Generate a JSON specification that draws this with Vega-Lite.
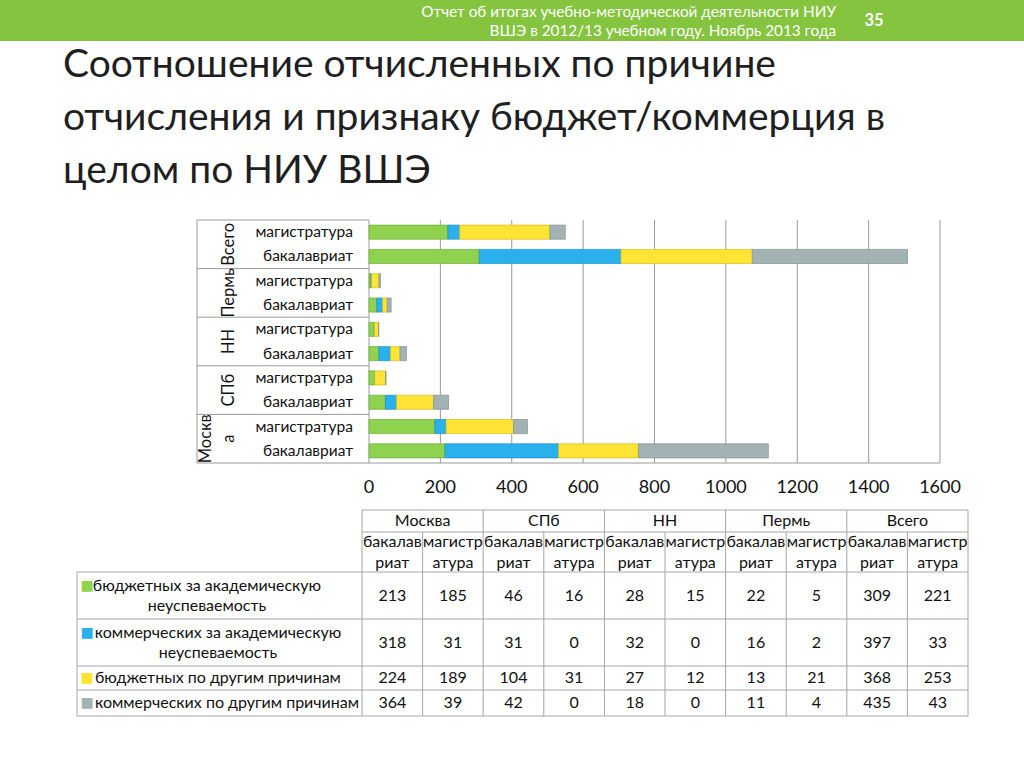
{
  "$schema": "https://vega.github.io/schema/vega-lite/v6.json",
  "width": 1024,
  "height": 768,
  "autosize": "none",
  "padding": 0,
  "background": "white",
  "config": {"view": {"stroke": null}, "font": "Lato", "text": {"font": "Lato", "color": "#111111"}},
  "datasets": {
    "bars": [
      {"grp": "Москва", "prog": "бакалавриат", "k": 0, "cat": "бюджетных за академическую неуспеваемость", "v": 213},
      {"grp": "Москва", "prog": "бакалавриат", "k": 1, "cat": "коммерческих за академическую неуспеваемость", "v": 318},
      {"grp": "Москва", "prog": "бакалавриат", "k": 2, "cat": "бюджетных по другим причинам", "v": 224},
      {"grp": "Москва", "prog": "бакалавриат", "k": 3, "cat": "коммерческих по другим причинам", "v": 364},
      {"grp": "Москва", "prog": "магистратура", "k": 0, "cat": "бюджетных за академическую неуспеваемость", "v": 185},
      {"grp": "Москва", "prog": "магистратура", "k": 1, "cat": "коммерческих за академическую неуспеваемость", "v": 31},
      {"grp": "Москва", "prog": "магистратура", "k": 2, "cat": "бюджетных по другим причинам", "v": 189},
      {"grp": "Москва", "prog": "магистратура", "k": 3, "cat": "коммерческих по другим причинам", "v": 39},
      {"grp": "СПб", "prog": "бакалавриат", "k": 0, "cat": "бюджетных за академическую неуспеваемость", "v": 46},
      {"grp": "СПб", "prog": "бакалавриат", "k": 1, "cat": "коммерческих за академическую неуспеваемость", "v": 31},
      {"grp": "СПб", "prog": "бакалавриат", "k": 2, "cat": "бюджетных по другим причинам", "v": 104},
      {"grp": "СПб", "prog": "бакалавриат", "k": 3, "cat": "коммерческих по другим причинам", "v": 42},
      {"grp": "СПб", "prog": "магистратура", "k": 0, "cat": "бюджетных за академическую неуспеваемость", "v": 16},
      {"grp": "СПб", "prog": "магистратура", "k": 1, "cat": "коммерческих за академическую неуспеваемость", "v": 0},
      {"grp": "СПб", "prog": "магистратура", "k": 2, "cat": "бюджетных по другим причинам", "v": 31},
      {"grp": "СПб", "prog": "магистратура", "k": 3, "cat": "коммерческих по другим причинам", "v": 0},
      {"grp": "НН", "prog": "бакалавриат", "k": 0, "cat": "бюджетных за академическую неуспеваемость", "v": 28},
      {"grp": "НН", "prog": "бакалавриат", "k": 1, "cat": "коммерческих за академическую неуспеваемость", "v": 32},
      {"grp": "НН", "prog": "бакалавриат", "k": 2, "cat": "бюджетных по другим причинам", "v": 27},
      {"grp": "НН", "prog": "бакалавриат", "k": 3, "cat": "коммерческих по другим причинам", "v": 18},
      {"grp": "НН", "prog": "магистратура", "k": 0, "cat": "бюджетных за академическую неуспеваемость", "v": 15},
      {"grp": "НН", "prog": "магистратура", "k": 1, "cat": "коммерческих за академическую неуспеваемость", "v": 0},
      {"grp": "НН", "prog": "магистратура", "k": 2, "cat": "бюджетных по другим причинам", "v": 12},
      {"grp": "НН", "prog": "магистратура", "k": 3, "cat": "коммерческих по другим причинам", "v": 0},
      {"grp": "Пермь", "prog": "бакалавриат", "k": 0, "cat": "бюджетных за академическую неуспеваемость", "v": 22},
      {"grp": "Пермь", "prog": "бакалавриат", "k": 1, "cat": "коммерческих за академическую неуспеваемость", "v": 16},
      {"grp": "Пермь", "prog": "бакалавриат", "k": 2, "cat": "бюджетных по другим причинам", "v": 13},
      {"grp": "Пермь", "prog": "бакалавриат", "k": 3, "cat": "коммерческих по другим причинам", "v": 11},
      {"grp": "Пермь", "prog": "магистратура", "k": 0, "cat": "бюджетных за академическую неуспеваемость", "v": 5},
      {"grp": "Пермь", "prog": "магистратура", "k": 1, "cat": "коммерческих за академическую неуспеваемость", "v": 2},
      {"grp": "Пермь", "prog": "магистратура", "k": 2, "cat": "бюджетных по другим причинам", "v": 21},
      {"grp": "Пермь", "prog": "магистратура", "k": 3, "cat": "коммерческих по другим причинам", "v": 4},
      {"grp": "Всего", "prog": "бакалавриат", "k": 0, "cat": "бюджетных за академическую неуспеваемость", "v": 309},
      {"grp": "Всего", "prog": "бакалавриат", "k": 1, "cat": "коммерческих за академическую неуспеваемость", "v": 397},
      {"grp": "Всего", "prog": "бакалавриат", "k": 2, "cat": "бюджетных по другим причинам", "v": 368},
      {"grp": "Всего", "prog": "бакалавриат", "k": 3, "cat": "коммерческих по другим причинам", "v": 435},
      {"grp": "Всего", "prog": "магистратура", "k": 0, "cat": "бюджетных за академическую неуспеваемость", "v": 221},
      {"grp": "Всего", "prog": "магистратура", "k": 1, "cat": "коммерческих за академическую неуспеваемость", "v": 33},
      {"grp": "Всего", "prog": "магистратура", "k": 2, "cat": "бюджетных по другим причинам", "v": 253},
      {"grp": "Всего", "prog": "магистратура", "k": 3, "cat": "коммерческих по другим причинам", "v": 43}
    ],
    "cats": [
      {"k": 0, "cat": "бюджетных за академическую неуспеваемость", "txt": "бюджетных за академическую\nнеуспеваемость"},
      {"k": 1, "cat": "коммерческих за академическую неуспеваемость", "txt": "коммерческих за академическую\nнеуспеваемость"},
      {"k": 2, "cat": "бюджетных по другим причинам", "txt": "бюджетных по другим причинам"},
      {"k": 3, "cat": "коммерческих по другим причинам", "txt": "коммерческих по другим причинам"}
    ],
    "groups": [
      {"grp": "Всего", "lab": "Всего"},
      {"grp": "Пермь", "lab": "Пермь"},
      {"grp": "НН", "lab": "НН"},
      {"grp": "СПб", "lab": "СПб"},
      {"grp": "Москва", "lab": "Москв\nа"}
    ],
    "progs": [
      {"grp": "Всего", "prog": "магистратура", "wrap": "магистр\nатура"},
      {"grp": "Всего", "prog": "бакалавриат", "wrap": "бакалав\nриат"},
      {"grp": "Пермь", "prog": "магистратура", "wrap": "магистр\nатура"},
      {"grp": "Пермь", "prog": "бакалавриат", "wrap": "бакалав\nриат"},
      {"grp": "НН", "prog": "магистратура", "wrap": "магистр\nатура"},
      {"grp": "НН", "prog": "бакалавриат", "wrap": "бакалав\nриат"},
      {"grp": "СПб", "prog": "магистратура", "wrap": "магистр\nатура"},
      {"grp": "СПб", "prog": "бакалавриат", "wrap": "бакалав\nриат"},
      {"grp": "Москва", "prog": "магистратура", "wrap": "магистр\nатура"},
      {"grp": "Москва", "prog": "бакалавриат", "wrap": "бакалав\nриат"}
    ],
    "ticks": [{"t": 0}, {"t": 200}, {"t": 400}, {"t": 600}, {"t": 800}, {"t": 1000}, {"t": 1200}, {"t": 1400}, {"t": 1600}],
    "hl": [{"at": -0.5}, {"at": 0.5}, {"at": 1.5}, {"at": 2.5}, {"at": 3.5}]
  },
  "layer": [
    {
      "data": {"values": [{}]},
      "mark": {"type": "rect", "color": "#84c43f"},
      "encoding": {"x": {"value": 0}, "x2": {"value": 1024}, "y": {"value": 0}, "y2": {"value": 41}}
    },
    {
      "data": {"values": [{"t": "Отчет об итогах учебно-методической деятельности НИУ\nВШЭ в 2012/13 учебном году. Ноябрь 2013 года"}]},
      "mark": {"type": "text", "align": "right", "baseline": "middle", "lineBreak": "\n", "lineHeight": 19, "fontSize": 15.3, "color": "white"},
      "encoding": {"text": {"field": "t"}, "x": {"value": 836}, "y": {"value": 12}}
    },
    {
      "data": {"values": [{"t": "35"}]},
      "mark": {"type": "text", "align": "center", "baseline": "middle", "fontSize": 16.5, "fontWeight": "bold", "color": "white"},
      "encoding": {"text": {"field": "t"}, "x": {"value": 874}, "y": {"value": 21}}
    },
    {
      "data": {"values": [{"t": "Соотношение отчисленных по причине\nотчисления и признаку бюджет/коммерция в\nцелом по НИУ ВШЭ"}]},
      "mark": {"type": "text", "align": "left", "baseline": "alphabetic", "lineBreak": "\n", "lineHeight": 53, "fontSize": 39, "color": "#1f1f1f"},
      "encoding": {"text": {"field": "t"}, "x": {"value": 63}, "y": {"value": 77}}
    },
    {
      "layer": [
        {
          "data": {"name": "ticks"},
          "mark": {"type": "rule", "color": "#9a9a9a", "strokeWidth": 1},
          "encoding": {
            "x": {"field": "t", "type": "quantitative", "scale": {"domain": [0, 1600], "range": [369, 940], "nice": false, "zero": false}, "axis": null},
            "y": {"datum": "Всего", "type": "nominal", "bandPosition": 0, "scale": {"domain": ["Всего", "Пермь", "НН", "СПб", "Москва"], "range": [220, 463], "paddingInner": 0, "paddingOuter": 0}, "axis": null},
            "y2": {"datum": "Москва", "bandPosition": 1}
          }
        },
        {
          "data": {"name": "groups"},
          "mark": {"type": "rule", "color": "#9a9a9a", "strokeWidth": 1},
          "encoding": {
            "x": {"datum": 0, "type": "quantitative", "scale": {"domain": [0, 1600], "range": [369, 940], "nice": false, "zero": false}, "axis": null},
            "x2": {"value": 197},
            "y": {"field": "grp", "type": "nominal", "bandPosition": 0, "scale": {"domain": ["Всего", "Пермь", "НН", "СПб", "Москва"], "range": [220, 463], "paddingInner": 0, "paddingOuter": 0}, "axis": null}
          }
        },
        {
          "data": {"values": [{}]},
          "mark": {"type": "rule", "color": "#9a9a9a", "strokeWidth": 1},
          "encoding": {
            "x": {"datum": 1600, "type": "quantitative", "scale": {"domain": [0, 1600], "range": [369, 940], "nice": false, "zero": false}, "axis": null},
            "x2": {"value": 197},
            "y": {"datum": "Москва", "type": "nominal", "bandPosition": 1, "scale": {"domain": ["Всего", "Пермь", "НН", "СПб", "Москва"], "range": [220, 463], "paddingInner": 0, "paddingOuter": 0}, "axis": null}
          }
        },
        {
          "data": {"values": [{}]},
          "mark": {"type": "rule", "color": "#9a9a9a", "strokeWidth": 1},
          "encoding": {
            "x": {"value": 197},
            "y": {"datum": "Всего", "type": "nominal", "bandPosition": 0, "scale": {"domain": ["Всего", "Пермь", "НН", "СПб", "Москва"], "range": [220, 463], "paddingInner": 0, "paddingOuter": 0}, "axis": null},
            "y2": {"datum": "Москва", "bandPosition": 1}
          }
        },
        {
          "data": {"name": "bars"},
          "mark": {"type": "bar", "strokeWidth": 0.7},
          "encoding": {
            "y": {"field": "grp", "type": "nominal", "scale": {"domain": ["Всего", "Пермь", "НН", "СПб", "Москва"], "range": [220, 463], "paddingInner": 0, "paddingOuter": 0}, "axis": null},
            "yOffset": {"field": "prog", "type": "nominal", "scale": {"domain": ["магистратура", "бакалавриат"], "paddingInner": 0.42, "paddingOuter": 0.21}},
            "x": {"field": "v", "type": "quantitative", "stack": "zero", "scale": {"domain": [0, 1600], "range": [369, 940], "nice": false, "zero": false}, "axis": null},
            "color": {"field": "cat", "type": "nominal", "scale": {"domain": ["бюджетных за академическую неуспеваемость", "коммерческих за академическую неуспеваемость", "бюджетных по другим причинам", "коммерческих по другим причинам"], "range": ["#8ed24f", "#2bb0ee", "#ffe335", "#a3b3b3"]}, "legend": null},
            "stroke": {"field": "cat", "type": "nominal", "scale": {"domain": ["бюджетных за академическую неуспеваемость", "коммерческих за академическую неуспеваемость", "бюджетных по другим причинам", "коммерческих по другим причинам"], "range": ["#6fae35", "#1a8fc8", "#d9bd1a", "#7f9090"]}, "legend": null},
            "order": {"field": "k", "type": "quantitative"}
          }
        },
        {
          "data": {"name": "progs"},
          "mark": {"type": "text", "align": "right", "baseline": "middle", "fontSize": 15.5},
          "encoding": {
            "text": {"field": "prog"},
            "x": {"value": 353},
            "y": {"field": "grp", "type": "nominal", "scale": {"domain": ["Всего", "Пермь", "НН", "СПб", "Москва"], "range": [220, 463], "paddingInner": 0, "paddingOuter": 0}, "axis": null},
            "yOffset": {"field": "prog", "type": "nominal", "scale": {"domain": ["магистратура", "бакалавриат"], "paddingInner": 0.42, "paddingOuter": 0.21}}
          }
        },
        {
          "data": {"name": "groups"},
          "transform": [{"filter": "datum.grp !== 'Москва'"}],
          "mark": {"type": "text", "align": "center", "baseline": "middle", "angle": 270, "fontSize": 16.5},
          "encoding": {
            "text": {"field": "lab"},
            "x": {"value": 229},
            "y": {"field": "grp", "type": "nominal", "scale": {"domain": ["Всего", "Пермь", "НН", "СПб", "Москва"], "range": [220, 463], "paddingInner": 0, "paddingOuter": 0}, "axis": null}
          }
        },
        {
          "data": {"name": "groups"},
          "transform": [{"filter": "datum.grp === 'Москва'"}],
          "mark": {"type": "text", "align": "center", "baseline": "middle", "angle": 270, "lineBreak": "\n", "lineHeight": 23, "fontSize": 16.5},
          "encoding": {
            "text": {"field": "lab"},
            "x": {"value": 206},
            "y": {"field": "grp", "type": "nominal", "scale": {"domain": ["Всего", "Пермь", "НН", "СПб", "Москва"], "range": [220, 463], "paddingInner": 0, "paddingOuter": 0}, "axis": null}
          }
        },
        {
          "data": {"name": "ticks"},
          "mark": {"type": "text", "align": "center", "baseline": "middle", "fontSize": 18, "dy": 25},
          "encoding": {
            "text": {"field": "t"},
            "x": {"field": "t", "type": "quantitative", "scale": {"domain": [0, 1600], "range": [369, 940], "nice": false, "zero": false}, "axis": null},
            "y": {"datum": "Москва", "type": "nominal", "bandPosition": 1, "scale": {"domain": ["Всего", "Пермь", "НН", "СПб", "Москва"], "range": [220, 463], "paddingInner": 0, "paddingOuter": 0}, "axis": null}
          }
        }
      ]
    },
    {
      "layer": [
        {
          "data": {"name": "groups"},
          "mark": {"type": "rule", "color": "#a6a6a6", "strokeWidth": 1},
          "encoding": {
            "x": {"field": "grp", "type": "nominal", "bandPosition": 0, "scale": {"domain": ["Москва", "СПб", "НН", "Пермь", "Всего"], "range": [362, 968], "paddingInner": 0, "paddingOuter": 0}, "axis": null},
            "y": {"datum": -2.5, "type": "quantitative", "scale": {"domain": [-2.5, -2, -1.5, -1, -0.5, 0, 0.5, 1, 1.5, 2, 2.5, 3, 3.5], "range": [510, 521, 532, 552, 572, 595.5, 619, 642.5, 666, 678, 690, 703, 716], "nice": false, "zero": false}, "axis": null},
            "y2": {"datum": 3.5}
          }
        },
        {
          "data": {"name": "groups"},
          "mark": {"type": "rule", "color": "#a6a6a6", "strokeWidth": 1},
          "encoding": {
            "x": {"field": "grp", "type": "nominal", "bandPosition": 0.5, "scale": {"domain": ["Москва", "СПб", "НН", "Пермь", "Всего"], "range": [362, 968], "paddingInner": 0, "paddingOuter": 0}, "axis": null},
            "y": {"datum": -1.5, "type": "quantitative", "scale": {"domain": [-2.5, -2, -1.5, -1, -0.5, 0, 0.5, 1, 1.5, 2, 2.5, 3, 3.5], "range": [510, 521, 532, 552, 572, 595.5, 619, 642.5, 666, 678, 690, 703, 716], "nice": false, "zero": false}, "axis": null},
            "y2": {"datum": 3.5}
          }
        },
        {
          "data": {"values": [{}]},
          "mark": {"type": "rule", "color": "#a6a6a6", "strokeWidth": 1},
          "encoding": {
            "x": {"datum": "Всего", "type": "nominal", "bandPosition": 1, "scale": {"domain": ["Москва", "СПб", "НН", "Пермь", "Всего"], "range": [362, 968], "paddingInner": 0, "paddingOuter": 0}, "axis": null},
            "y": {"datum": -2.5, "type": "quantitative", "scale": {"domain": [-2.5, -2, -1.5, -1, -0.5, 0, 0.5, 1, 1.5, 2, 2.5, 3, 3.5], "range": [510, 521, 532, 552, 572, 595.5, 619, 642.5, 666, 678, 690, 703, 716], "nice": false, "zero": false}, "axis": null},
            "y2": {"datum": 3.5}
          }
        },
        {
          "data": {"values": [{"at": -2.5}, {"at": -1.5}]},
          "mark": {"type": "rule", "color": "#a6a6a6", "strokeWidth": 1},
          "encoding": {
            "x": {"datum": "Москва", "type": "nominal", "bandPosition": 0, "scale": {"domain": ["Москва", "СПб", "НН", "Пермь", "Всего"], "range": [362, 968], "paddingInner": 0, "paddingOuter": 0}, "axis": null},
            "x2": {"datum": "Всего", "bandPosition": 1},
            "y": {"field": "at", "type": "quantitative", "scale": {"domain": [-2.5, -2, -1.5, -1, -0.5, 0, 0.5, 1, 1.5, 2, 2.5, 3, 3.5], "range": [510, 521, 532, 552, 572, 595.5, 619, 642.5, 666, 678, 690, 703, 716], "nice": false, "zero": false}, "axis": null}
          }
        },
        {
          "data": {"name": "hl"},
          "mark": {"type": "rule", "color": "#a6a6a6", "strokeWidth": 1},
          "encoding": {
            "x": {"datum": "Всего", "type": "nominal", "bandPosition": 1, "scale": {"domain": ["Москва", "СПб", "НН", "Пермь", "Всего"], "range": [362, 968], "paddingInner": 0, "paddingOuter": 0}, "axis": null},
            "x2": {"value": 77},
            "y": {"field": "at", "type": "quantitative", "scale": {"domain": [-2.5, -2, -1.5, -1, -0.5, 0, 0.5, 1, 1.5, 2, 2.5, 3, 3.5], "range": [510, 521, 532, 552, 572, 595.5, 619, 642.5, 666, 678, 690, 703, 716], "nice": false, "zero": false}, "axis": null}
          }
        },
        {
          "data": {"values": [{}]},
          "mark": {"type": "rule", "color": "#a6a6a6", "strokeWidth": 1},
          "encoding": {
            "x": {"value": 77},
            "y": {"datum": -0.5, "type": "quantitative", "scale": {"domain": [-2.5, -2, -1.5, -1, -0.5, 0, 0.5, 1, 1.5, 2, 2.5, 3, 3.5], "range": [510, 521, 532, 552, 572, 595.5, 619, 642.5, 666, 678, 690, 703, 716], "nice": false, "zero": false}, "axis": null},
            "y2": {"datum": 3.5}
          }
        },
        {
          "data": {"name": "groups"},
          "mark": {"type": "text", "align": "center", "baseline": "middle", "fontSize": 16},
          "encoding": {
            "text": {"field": "grp"},
            "x": {"field": "grp", "type": "nominal", "scale": {"domain": ["Москва", "СПб", "НН", "Пермь", "Всего"], "range": [362, 968], "paddingInner": 0, "paddingOuter": 0}, "axis": null},
            "y": {"datum": -2, "type": "quantitative", "scale": {"domain": [-2.5, -2, -1.5, -1, -0.5, 0, 0.5, 1, 1.5, 2, 2.5, 3, 3.5], "range": [510, 521, 532, 552, 572, 595.5, 619, 642.5, 666, 678, 690, 703, 716], "nice": false, "zero": false}, "axis": null}
          }
        },
        {
          "data": {"name": "progs"},
          "mark": {"type": "text", "align": "center", "baseline": "middle", "fontSize": 16, "lineBreak": "\n", "lineHeight": 21, "dy": -10},
          "encoding": {
            "text": {"field": "wrap"},
            "x": {"field": "grp", "type": "nominal", "scale": {"domain": ["Москва", "СПб", "НН", "Пермь", "Всего"], "range": [362, 968], "paddingInner": 0, "paddingOuter": 0}, "axis": null},
            "xOffset": {"field": "prog", "type": "nominal", "scale": {"type": "point", "domain": ["бакалавриат", "магистратура"], "padding": 0.5}},
            "y": {"datum": -1, "type": "quantitative", "scale": {"domain": [-2.5, -2, -1.5, -1, -0.5, 0, 0.5, 1, 1.5, 2, 2.5, 3, 3.5], "range": [510, 521, 532, 552, 572, 595.5, 619, 642.5, 666, 678, 690, 703, 716], "nice": false, "zero": false}, "axis": null}
          }
        },
        {
          "data": {"name": "bars"},
          "mark": {"type": "text", "align": "center", "baseline": "middle", "fontSize": 16},
          "encoding": {
            "text": {"field": "v"},
            "x": {"field": "grp", "type": "nominal", "scale": {"domain": ["Москва", "СПб", "НН", "Пермь", "Всего"], "range": [362, 968], "paddingInner": 0, "paddingOuter": 0}, "axis": null},
            "xOffset": {"field": "prog", "type": "nominal", "scale": {"type": "point", "domain": ["бакалавриат", "магистратура"], "padding": 0.5}},
            "y": {"field": "k", "type": "quantitative", "scale": {"domain": [-2.5, -2, -1.5, -1, -0.5, 0, 0.5, 1, 1.5, 2, 2.5, 3, 3.5], "range": [510, 521, 532, 552, 572, 595.5, 619, 642.5, 666, 678, 690, 703, 716], "nice": false, "zero": false}, "axis": null}
          }
        },
        {
          "data": {"name": "cats"},
          "transform": [{"filter": "datum.k < 2"}],
          "mark": {"type": "text", "text": "■", "font": "DejaVu Sans", "fontSize": 14, "align": "center", "baseline": "middle", "dy": -10},
          "encoding": {
            "x": {"value": 87},
            "y": {"field": "k", "type": "quantitative", "scale": {"domain": [-2.5, -2, -1.5, -1, -0.5, 0, 0.5, 1, 1.5, 2, 2.5, 3, 3.5], "range": [510, 521, 532, 552, 572, 595.5, 619, 642.5, 666, 678, 690, 703, 716], "nice": false, "zero": false}, "axis": null},
            "color": {"field": "cat", "type": "nominal", "scale": {"domain": ["бюджетных за академическую неуспеваемость", "коммерческих за академическую неуспеваемость", "бюджетных по другим причинам", "коммерческих по другим причинам"], "range": ["#8ed24f", "#2bb0ee", "#ffe335", "#a3b3b3"]}, "legend": null}
          }
        },
        {
          "data": {"name": "cats"},
          "transform": [{"filter": "datum.k >= 2"}],
          "mark": {"type": "text", "text": "■", "font": "DejaVu Sans", "fontSize": 14, "align": "center", "baseline": "middle"},
          "encoding": {
            "x": {"value": 87},
            "y": {"field": "k", "type": "quantitative", "scale": {"domain": [-2.5, -2, -1.5, -1, -0.5, 0, 0.5, 1, 1.5, 2, 2.5, 3, 3.5], "range": [510, 521, 532, 552, 572, 595.5, 619, 642.5, 666, 678, 690, 703, 716], "nice": false, "zero": false}, "axis": null},
            "color": {"field": "cat", "type": "nominal", "scale": {"domain": ["бюджетных за академическую неуспеваемость", "коммерческих за академическую неуспеваемость", "бюджетных по другим причинам", "коммерческих по другим причинам"], "range": ["#8ed24f", "#2bb0ee", "#ffe335", "#a3b3b3"]}, "legend": null}
          }
        },
        {
          "data": {"name": "cats"},
          "transform": [{"filter": "datum.k === 0"}],
          "mark": {"type": "text", "align": "center", "baseline": "middle", "fontSize": 16, "lineBreak": "\n", "lineHeight": 20, "dy": -10},
          "encoding": {
            "text": {"field": "txt"},
            "x": {"value": 207},
            "y": {"field": "k", "type": "quantitative", "scale": {"domain": [-2.5, -2, -1.5, -1, -0.5, 0, 0.5, 1, 1.5, 2, 2.5, 3, 3.5], "range": [510, 521, 532, 552, 572, 595.5, 619, 642.5, 666, 678, 690, 703, 716], "nice": false, "zero": false}, "axis": null}
          }
        },
        {
          "data": {"name": "cats"},
          "transform": [{"filter": "datum.k === 1"}],
          "mark": {"type": "text", "align": "center", "baseline": "middle", "fontSize": 16, "lineBreak": "\n", "lineHeight": 20, "dy": -10},
          "encoding": {
            "text": {"field": "txt"},
            "x": {"value": 218},
            "y": {"field": "k", "type": "quantitative", "scale": {"domain": [-2.5, -2, -1.5, -1, -0.5, 0, 0.5, 1, 1.5, 2, 2.5, 3, 3.5], "range": [510, 521, 532, 552, 572, 595.5, 619, 642.5, 666, 678, 690, 703, 716], "nice": false, "zero": false}, "axis": null}
          }
        },
        {
          "data": {"name": "cats"},
          "transform": [{"filter": "datum.k >= 2"}],
          "mark": {"type": "text", "align": "left", "baseline": "middle", "fontSize": 16},
          "encoding": {
            "text": {"field": "txt"},
            "x": {"value": 95},
            "y": {"field": "k", "type": "quantitative", "scale": {"domain": [-2.5, -2, -1.5, -1, -0.5, 0, 0.5, 1, 1.5, 2, 2.5, 3, 3.5], "range": [510, 521, 532, 552, 572, 595.5, 619, 642.5, 666, 678, 690, 703, 716], "nice": false, "zero": false}, "axis": null}
          }
        }
      ]
    }
  ],
  "resolve": {"scale": {"x": "independent", "y": "independent", "color": "independent", "stroke": "independent", "xOffset": "independent", "yOffset": "independent"}}
}
